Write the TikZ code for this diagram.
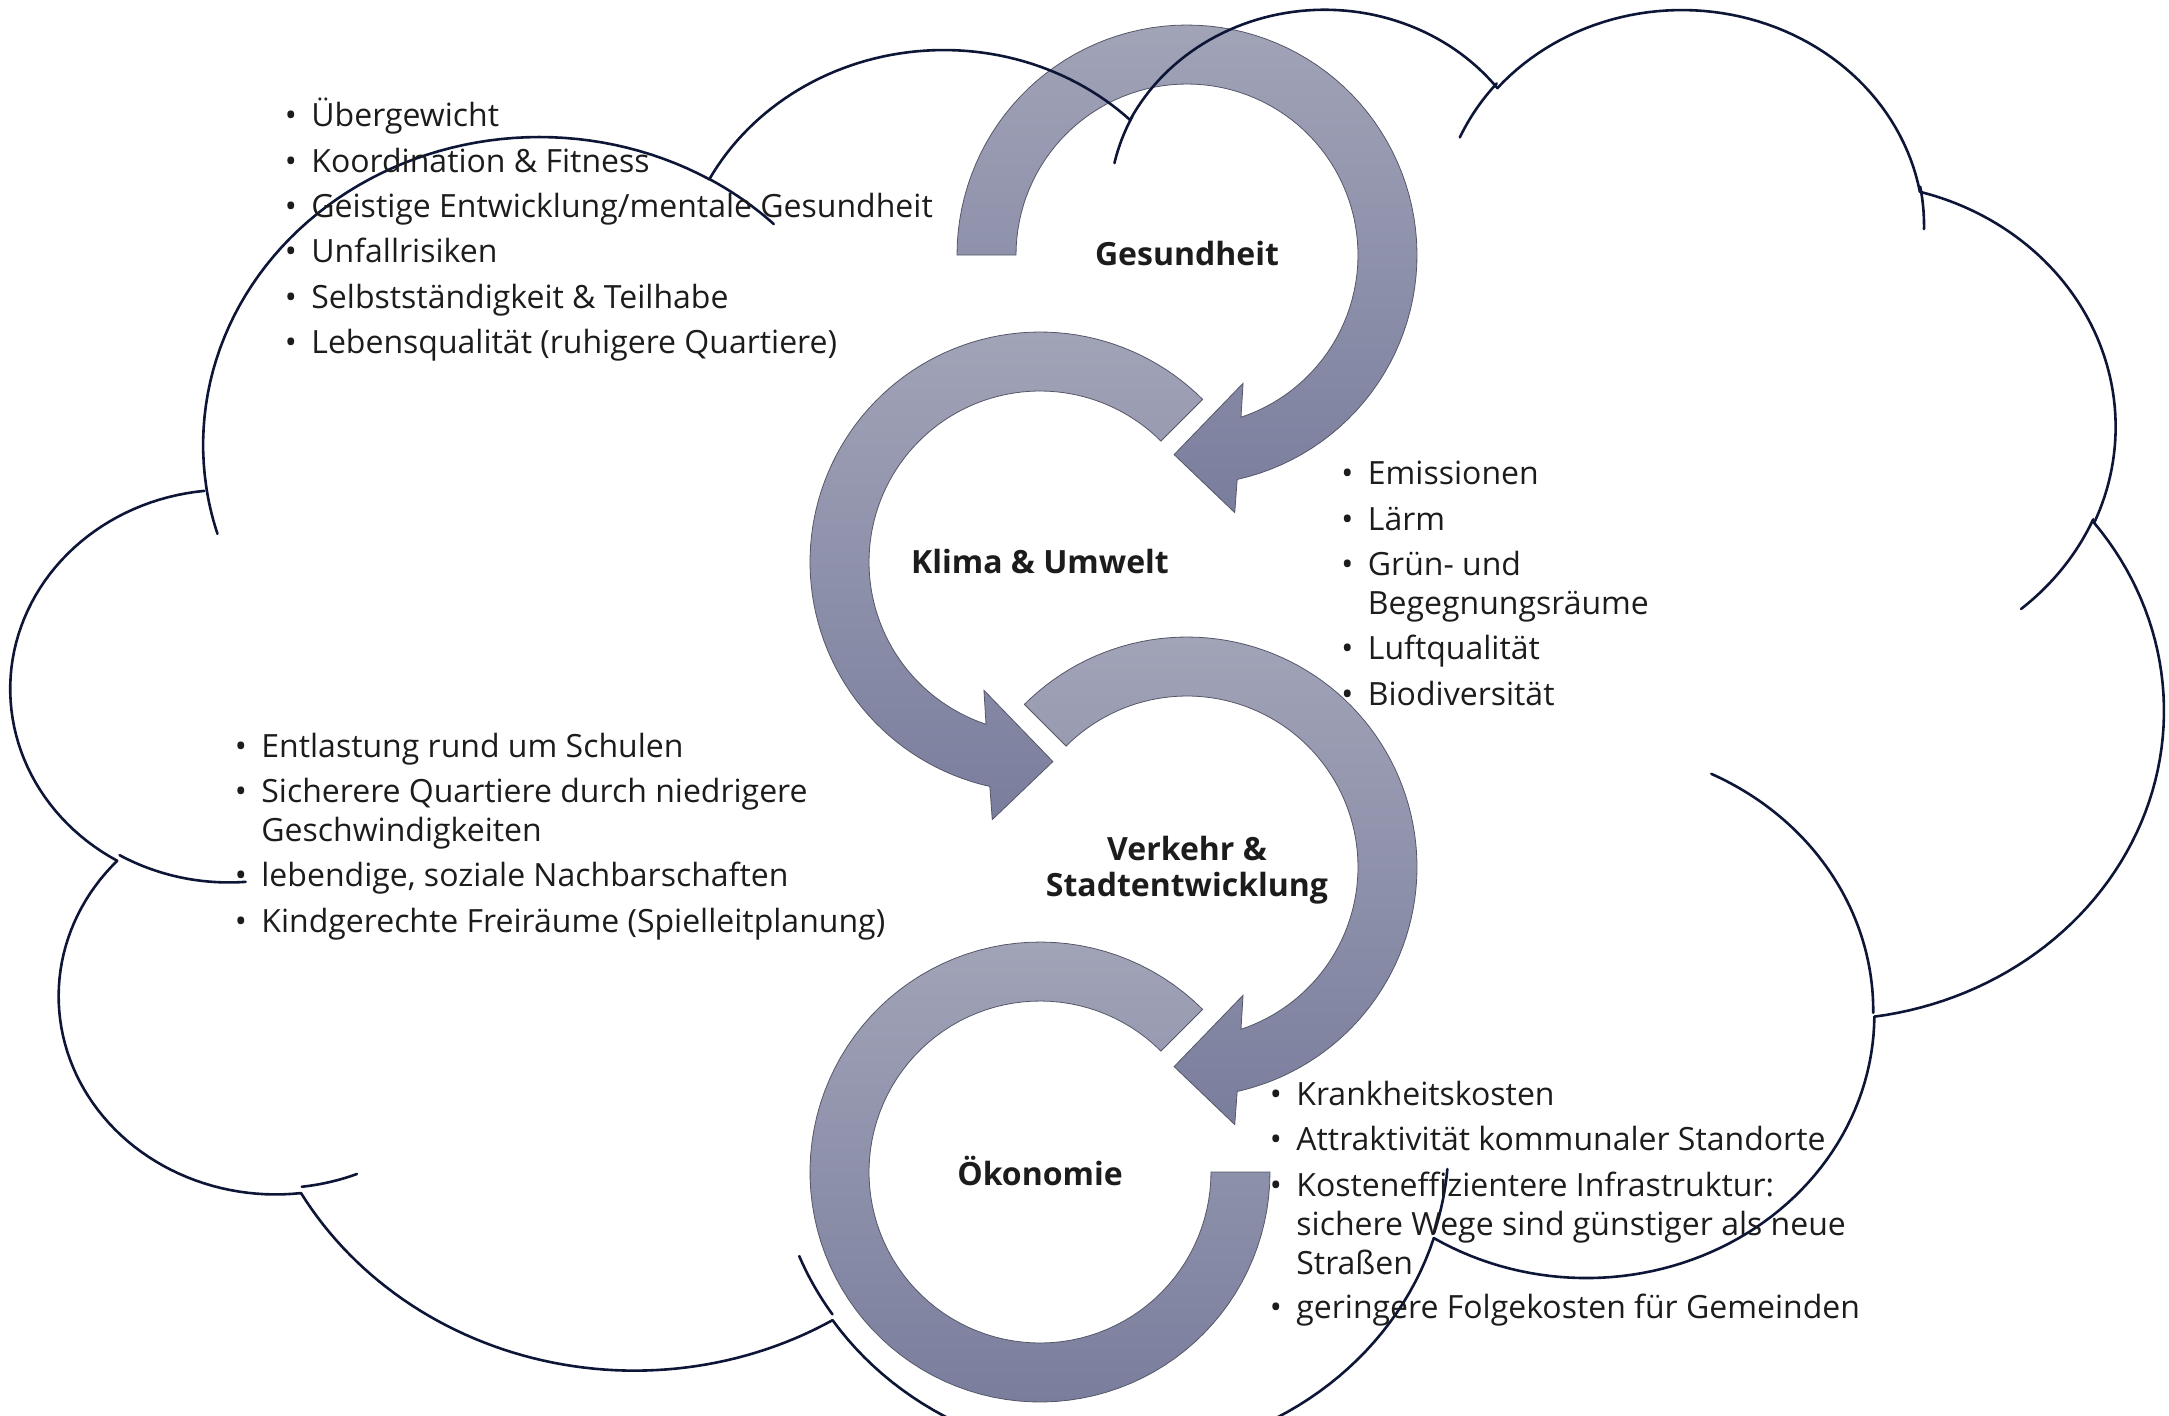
\documentclass[tikz,border=0pt]{standalone}
\usepackage{fontspec}
\setmainfont{Open Sans}
\definecolor{cloudcol}{RGB}{14,22,56}
\definecolor{ringtop}{RGB}{161,163,183}
\definecolor{ringbot}{RGB}{122,126,157}
\definecolor{ringedge}{RGB}{85,87,105}
\definecolor{txt}{RGB}{28,28,28}
\tikzset{
  cloudline/.style={draw=cloudcol, line width=1.3pt, line cap=round},
  ring/.style={top color=ringtop, bottom color=ringbot, draw=ringedge, line width=0.4pt},
  itemtext/.style={font=\fontsize{16}{19}\selectfont, text=txt, anchor=base west, inner sep=0pt},
  bulletmark/.style={font=\fontsize{16}{19}\selectfont, text=txt, anchor=base, inner sep=0pt},
  cyclelabel/.style={font=\fontsize{16}{19}\selectfont\bfseries, text=txt, anchor=base, inner sep=0pt}
}
% clockwise circular arrow, head at lower left
\newcommand\cwarrow[3]{%
  \shadedraw[ring] plot[domain=#3:437.4,samples=90] ({#1+230*cos(\x)},{#2+230*sin(\x)})
    -- ({#1+262*cos(79.5)},{#2+262*sin(79.5)})
    -- ({#1+200*cos(93.7)},{#2+200*sin(93.7)})
    -- ({#1+140*cos(66.4)},{#2+140*sin(66.4)})
    -- plot[domain=431.6:#3,samples=90] ({#1+171*cos(\x)},{#2+171*sin(\x)}) -- cycle;
}
% counter-clockwise circular arrow, head at lower right
\newcommand\ccwarrow[3]{%
  \shadedraw[ring] plot[domain=#3:102.6,samples=90] ({#1+230*cos(\x)},{#2+230*sin(\x)})
    -- ({#1+262*cos(100.5)},{#2+262*sin(100.5)})
    -- ({#1+200*cos(86.3)},{#2+200*sin(86.3)})
    -- ({#1+140*cos(113.6)},{#2+140*sin(113.6)})
    -- plot[domain=108.4:#3,samples=90] ({#1+171*cos(\x)},{#2+171*sin(\x)}) -- cycle;
}
% last ring without head
\newcommand\lastarrow[2]{%
  \shadedraw[ring] plot[domain=315:0,samples=100] ({#1+230*cos(\x)},{#2+230*sin(\x)})
    -- plot[domain=0:315,samples=100] ({#1+171*cos(\x)},{#2+171*sin(\x)}) -- cycle;
}
% cloud path (OOXML arcTo semantics)
\newcommand\cloudmove[2]{\pgfmathsetmacro\cpx{#1}\pgfmathsetmacro\cpy{#2}}
\newcommand\cloudarc[4]{%
  \pgfmathsetmacro\tA{atan2((#1)*sin(#3),(#2)*cos(#3))}%
  \pgfmathsetmacro\tB{atan2((#1)*sin((#3)+(#4)),(#2)*cos((#3)+(#4)))}%
  \pgfmathsetmacro\tB{ifthenelse(\tB<\tA,\tB+360,\tB)}%
  \pgfmathsetmacro\ccx{\cpx-(#1)*cos(\tA)}%
  \pgfmathsetmacro\ccy{\cpy-(#2)*sin(\tA)}%
  \draw[cloudline] plot[domain=\tA:\tB,samples=60] ({\ccx+(#1)*cos(\x)},{\ccy+(#2)*sin(\x)});%
  \pgfmathsetmacro\cpx{\ccx+(#1)*cos(\tB)}%
  \pgfmathsetmacro\cpy{\ccy+(#2)*sin(\tB)}%
}
\newcommand\bitem[4]{%
  \node[bulletmark] (#1b) at ({#2-20},#3) {•};
  \node[itemtext] (#1) at (#2,#3) {#4};
}
\newcommand\citem[4]{\node[itemtext] (#1) at (#2,#3) {#4};}
\begin{document}
\begin{tikzpicture}[x=0.5pt,y=-0.5pt]
\useasboundingbox (0,0) rectangle (2169,1415);
\clip (0,0) rectangle (2169,1415);
% circular arrows
\cwarrow{1187}{255}{180}
\ccwarrow{1040}{562}{315}
\cwarrow{1187}{867}{225}
\lastarrow{1040}{1172}
% cloud
\begin{scope}[shift={(12,5)},x=2.48958pt,y=-1.67477pt]
  \cloudmove{39.00}{143.70}
  \cloudarc{67.53}{91.90}{-190.487483}{123.780533}
  \cloudarc{53.33}{72.67}{-144.102383}{89.945233}
  \cloudarc{43.65}{59.45}{-145.807917}{99.723017}
  \cloudarc{48.57}{65.95}{-130.986067}{117.241733}
  \cloudarc{53.33}{72.73}{-78.708883}{109.026917}
  \cloudarc{67.75}{92.20}{-46.26725}{130.269}
  \cloudarc{57.85}{78.67}{0.625017}{114.033333}
  \cloudarc{67.52}{92.15}{22.4516}{115.17255}
  \cloudarc{77.20}{105.43}{66.242633}{75.711017}
  \cloudarc{43.60}{59.18}{-274.942083}{146.735567}
  \cloudarc{43.45}{59.45}{-246.8285}{152.51885}
  % inner arcs
  \cloudmove{46.93}{261.77}\cloudarc{43.45}{59.45}{86.742}{26.4295}
  \cloudmove{69.28}{348.99}\cloudarc{43.60}{59.18}{73.61047}{11.44747}
  \cloudmove{164.78}{390.90}\cloudarc{67.52}{92.15}{137.62415}{14.0811}
  \cloudmove{288.27}{347.51}\cloudarc{67.52}{92.15}{6.45327}{15.99835}
  \cloudmove{341.29}{229.54}\cloudarc{57.85}{78.67}{-70.29235}{70.91737}
  \cloudmove{417.98}{153.54}\cloudarc{53.33}{72.73}{30.31803}{27.7515}
  \cloudmove{383.24}{54.26}\cloudarc{48.57}{65.95}{-13.74433}{14.8589}
  \cloudmove{290.78}{39.52}\cloudarc{48.57}{65.95}{-149.18145}{18.19537}
  \cloudmove{221.41}{47.20}\cloudarc{43.65}{59.45}{-163.49427}{17.68635}
  \cloudmove{140.00}{51.92}\cloudarc{67.53}{91.90}{-66.70695}{12.31935}
  \cloudmove{41.27}{157.89}\cloudarc{67.53}{91.90}{157.65435}{11.85817}
\end{scope}
% cycle labels
\node[cyclelabel] (ges) at (1187,265.7) {Gesundheit};
\node[cyclelabel] (kli) at (1040,573.3) {Klima \& Umwelt};
\node[cyclelabel] (ver1) at (1187,860) {Verkehr \&};
\node[cyclelabel] (ver2) at (1187,896.7) {Stadtentwicklung};
\node[cyclelabel] (oek) at (1040,1185.7) {Ökonomie};
% list 1
\bitem{a1}{311}{126.7}{Übergewicht}
\bitem{a2}{311}{172}{Koordination \& Fitness}
\bitem{a3}{311}{217.3}{Geistige Entwicklung/mentale Gesundheit}
\bitem{a4}{311}{262.6}{Unfallrisiken}
\bitem{a5}{311}{308}{Selbstständigkeit \& Teilhabe}
\bitem{a6}{311}{353.3}{Lebensqualität (ruhigere Quartiere)}
% list 2
\bitem{b1}{1367.5}{484.4}{Emissionen}
\bitem{b2}{1367.5}{530}{Lärm}
\bitem{b3}{1367.5}{575.5}{Grün- und}
\citem{b3c}{1367.5}{614.5}{Begegnungsräume}
\bitem{b4}{1367.5}{659.7}{Luftqualität}
\bitem{b5}{1367.5}{705.2}{Biodiversität}
% list 3
\bitem{c1}{261}{757}{Entlastung rund um Schulen}
\bitem{c2}{261}{802.5}{Sicherere Quartiere durch niedrigere}
\citem{c2c}{261}{841.3}{Geschwindigkeiten}
\bitem{c3}{261}{886.8}{lebendige, soziale Nachbarschaften}
\bitem{c4}{261}{932.3}{Kindgerechte Freiräume (Spielleitplanung)}
% list 4
\bitem{d1}{1296}{1105}{Krankheitskosten}
\bitem{d2}{1296}{1150.7}{Attraktivität kommunaler Standorte}
\bitem{d3}{1296}{1196.7}{Kosteneffizientere Infrastruktur:}
\citem{d3c}{1296}{1235.5}{sichere Wege sind günstiger als neue}
\citem{d3d}{1296}{1274}{Straßen}
\bitem{d4}{1296}{1318.3}{geringere Folgekosten für Gemeinden}
\end{tikzpicture}
\end{document}
